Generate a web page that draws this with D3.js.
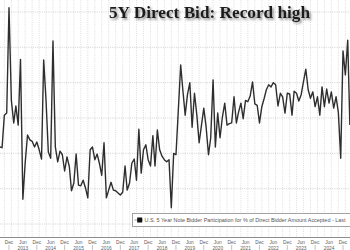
<!DOCTYPE html>
<html>
<head>
<meta charset="utf-8">
<script src="https://cdn.jsdelivr.net/npm/d3@7"></script>
<style>
  body { margin: 0; background: #fff; }
  svg { display: block; }
</style>
</head>
<body>
<div class="chart"></div>
<script>
// monthly 5Y auction, % of direct bidder amount accepted (first point Aug 2012)
const startMonth = "2012-08-01";
const directBid = [
  10.9, 10.8, 15.4, 15.7, 30.6, 17.5, 14.3, 16.7, 14.0, 23.3, 3.5, 8.6,
  12.6, 11.9, 11.7, 10.9, 11.6, 10.5, 9.2, 23.2, 17.5, 10.2, 9.3, 25.9,
  10.9, 8.8, 10.3, 9.8, 7.5, 9.5, 8.1, 4.7, 5.8, 9.9, 5.5, 5.4,
  6.2, 5.1, 3.7, 10.5, 10.9, 9.1, 9.9, 8.6, 6.9, 11.5, 3.7, 4.8,
  5.9, 4.8, 4.7, 4.4, 4.1, 4.5, 8.2, 4.8, 5.8, 8.6, 9.2, 6.2,
  13.4, 7.2, 10.5, 11.2, 9.1, 8.2, 12.5, 8.2, 13.3, 10.5, 9.6, 9.1,
  8.8, 9.1, 2.3, 10.0, 9.8, 16.1, 22.5, 19.0, 15.4, 18.3, 20.0, 13.7,
  18.5, 15.4, 11.5, 14.0, 16.4, 13.7, 9.8, 12.2, 20.4, 10.9, 15.7, 12.2,
  15.1, 17.1, 14.0, 14.2, 14.3, 18.0, 14.3, 15.8, 17.1, 14.9, 17.5, 17.3,
  18.1, 20.1, 17.0, 16.8, 14.3, 16.6, 17.8, 19.0, 19.7, 19.4, 20.0, 19.7,
  16.7, 18.5, 18.0, 15.7, 18.5, 18.4, 15.4, 18.8, 18.5, 17.4, 18.3, 20.1,
  21.9, 19.0, 17.8, 18.7, 16.6, 18.0, 15.4, 19.4, 16.6, 19.1, 17.1, 18.7,
  16.4, 18.0, 15.8, 9.3, 24.5, 21.1, 26.0, 14.0
];
const yGrid = [0, 5, 10, 15, 20, 25, 30];
const tickYears = [2012, 2013, 2014, 2015, 2016, 2017, 2018, 2019, 2020, 2021, 2022, 2023, 2024];
const titleText = "5Y Direct Bid: Record high";
const legendText = "U.S. 5 Year Note Bidder Participation for % of Direct Bidder Amount Accepted - Last";

const width = 350, height = 250;
const parse = d3.timeParse("%Y-%m-%d");
const start = parse(startMonth);
const data = directBid.map((v, i) => ({ date: d3.timeMonth.offset(start, i), value: v }));

const x = d3.scaleTime()
  .domain([new Date(2012, 11, 1), new Date(2024, 11, 1)])
  .range([9, 343]);
const y = d3.scaleLinear().domain([0, 30]).range([224, 12]);

const svg = d3.select(".chart").append("svg")
  .attr("width", width)
  .attr("height", height)
  .style("font-family", "'Liberation Sans', Arial, sans-serif");

const defs = svg.append("defs");
defs.append("filter").attr("id", "shadow")
  .attr("x", "-10%").attr("y", "-30%").attr("width", "130%").attr("height", "180%")
  .append("feDropShadow")
  .attr("dx", 1.6).attr("dy", 1.8).attr("stdDeviation", 1.1)
  .attr("flood-color", "#555").attr("flood-opacity", 0.7);

// vertical quarterly grid
const quarters = d3.timeMonth.every(3).range(new Date(2012, 6, 1), new Date(2025, 3, 1));
svg.append("g").selectAll("line")
  .data(quarters)
  .enter().append("line")
  .attr("x1", d => x(d)).attr("x2", d => x(d))
  .attr("y1", 0).attr("y2", 237)
  .attr("stroke", "#c8c8c8")
  .attr("stroke-width", 0.6)
  .attr("stroke-dasharray", "1,1.2");

// horizontal grid
svg.append("g").selectAll("line")
  .data(yGrid)
  .enter().append("line")
  .attr("x1", 0).attr("x2", width)
  .attr("y1", d => y(d)).attr("y2", d => y(d))
  .attr("stroke", "#bdbdbd")
  .attr("stroke-width", 0.7)
  .attr("stroke-dasharray", "1,1.2");

// series line
svg.append("path")
  .datum(data)
  .attr("fill", "none")
  .attr("stroke", "#2e2e2e")
  .attr("stroke-width", 1.4)
  .attr("stroke-linejoin", "round")
  .attr("d", d3.line().x(d => x(d.date)).y(d => y(d.value)));

// legend
const lg = svg.append("g");
lg.append("rect")
  .attr("x", 132.5).attr("y", 213.5)
  .attr("width", 230).attr("height", 13)
  .attr("fill", "#fff")
  .attr("stroke", "#9a9a9a")
  .attr("stroke-width", 0.9);
lg.append("line")
  .attr("x1", 134.5).attr("x2", 143).attr("y1", 220).attr("y2", 220)
  .attr("stroke", "#888").attr("stroke-width", 0.8);
lg.append("rect")
  .attr("x", 137.2).attr("y", 217.5).attr("width", 5).attr("height", 5)
  .attr("fill", "#111");
lg.append("text")
  .attr("x", 144.5).attr("y", 221.8)
  .attr("font-size", 5)
  .attr("fill", "#555")
  .attr("textLength", 201)
  .attr("lengthAdjust", "spacingAndGlyphs")
  .text(legendText);

// x axis
svg.append("line")
  .attr("x1", 0).attr("x2", width).attr("y1", 237.5).attr("y2", 237.5)
  .attr("stroke", "#8c8c8c").attr("stroke-width", 1);

const monthTicks = [];
tickYears.forEach(yr => {
  if (yr > 2012) monthTicks.push({ date: new Date(yr, 5, 1), label: "Jun" });
  monthTicks.push({ date: new Date(yr, 11, 1), label: "Dec" });
});

const ax = svg.append("g").attr("fill", "#5e5e5e").attr("font-size", 4.8).attr("text-anchor", "middle");
ax.selectAll(".m")
  .data(monthTicks)
  .enter().append("text")
  .attr("class", "m")
  .attr("x", d => x(d.date))
  .attr("y", 243.8)
  .text(d => d.label);

ax.selectAll(".yr")
  .data(tickYears.filter(yr => yr > 2012))
  .enter().append("text")
  .attr("class", "yr")
  .attr("x", d => x(new Date(d, 5, 1)))
  .attr("y", 249.6)
  .text(d => d);

svg.append("g").selectAll("line")
  .data(tickYears)
  .enter().append("line")
  .attr("x1", d => x(new Date(d, 11, 1))).attr("x2", d => x(new Date(d, 11, 1)))
  .attr("y1", 245).attr("y2", 250)
  .attr("stroke", "#999").attr("stroke-width", 0.6);

// title
svg.append("text")
  .attr("x", 109).attr("y", 18)
  .attr("font-family", "'Liberation Serif', 'Times New Roman', serif")
  .attr("font-weight", "bold")
  .attr("font-size", 16.5)
  .attr("fill", "#1a1a1a")
  .attr("textLength", 201)
  .attr("lengthAdjust", "spacingAndGlyphs")
  .attr("filter", "url(#shadow)")
  .text(titleText);
</script>
</body>
</html>
